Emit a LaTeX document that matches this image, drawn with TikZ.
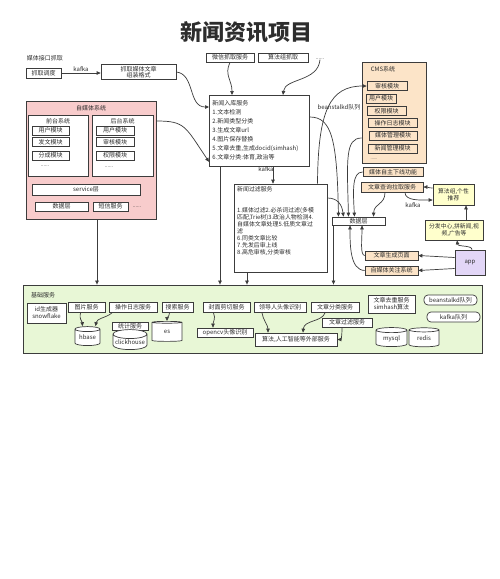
\documentclass[tikz,border=0pt]{standalone}
\usepackage{fontspec}
\setmainfont{Liberation Sans}
\newfontfamily\cjk{Noto Sans CJK SC}
\usetikzlibrary{shapes.geometric,arrows.meta}
\definecolor{lc}{RGB}{60,60,60}
\definecolor{tc}{RGB}{45,45,45}
\definecolor{pinkf}{RGB}{248,204,204}
\definecolor{peachf}{RGB}{252,228,200}
\definecolor{yelf}{RGB}{255,255,204}
\definecolor{greenf}{RGB}{232,247,214}
\definecolor{purf}{RGB}{226,214,247}
\tikzset{
  bx/.style={draw=lc, fill=white, line width=0.7pt, inner sep=0.5pt, align=center, text=tc},
  lbl/.style={inner sep=0pt, text=tc, align=center},
  cyl/.style={draw=lc, fill=white, line width=0.7pt, shape=cylinder, shape border rotate=90, aspect=0.3, inner sep=0pt, text=tc},
  arr/.style={draw=lc, line width=0.7pt, -{Triangle[length=4pt,width=3.5pt]}},
  grp/.style={draw=lc, line width=0.8pt, inner sep=0pt},
  rnd/.style={bx, rounded corners=4pt},
  cmsbox/.style={bx,fill=peachf,minimum height=9pt},
}
\begin{document}
\begin{tikzpicture}[x=1pt,y=-1pt,font=\cjk\fontsize{6}{7}\selectfont]
\useasboundingbox (0,0) rectangle (499,579);
\fill[white] (0,0) rectangle (499,579);
\node[lbl,font=\cjk\fontsize{22}{24}\selectfont\bfseries] (title) at (246,32) {新闻资讯项目};

% ---------- top left ----------
\node[lbl] (mtjk) at (45,58) {媒体接口抓取};
\node[bx,minimum width=35pt,minimum height=10pt] (zqdd) at (43.5,73) {抓取调度};
\node[bx,minimum width=75pt,minimum height=15pt,font=\cjk\fontsize{6}{6.5}\selectfont] (zqwz) at (138.5,72) {抓取媒体文章\\组装格式};
\draw[arr] (zqdd.east) -- node[lbl,above=1.5pt] (kf1) {kafka} (zqdd.east -| zqwz.west);

% ---------- self media system ----------
\node[grp,fill=pinkf,minimum width=130pt,minimum height=118pt] (zmt) at (91,160) {};
\node[lbl] (zmtt) at (91,108) {自媒体系统};
\node[grp,fill=white,minimum width=60pt,minimum height=61pt] (qt) at (58,145.5) {};
\node[lbl] (qtt) at (58,121) {前台系统};
\node[bx,minimum width=37pt,minimum height=9pt] (qt1) at (50.5,130.5) {用户模块};
\node[bx,minimum width=37pt,minimum height=9pt] (qt2) at (50.5,142) {发文模块};
\node[bx,minimum width=37pt,minimum height=9pt] (qt3) at (50.5,155.5) {分成模块};
\node[lbl,font=\cjk\fontsize{5}{6}\selectfont] (qtd) at (45,166) {......};
\node[grp,fill=white,minimum width=61pt,minimum height=61pt] (ht) at (122.5,145.5) {};
\node[lbl] (htt) at (122.5,121) {后台系统};
\node[bx,minimum width=38pt,minimum height=9pt] (ht1) at (115,130.5) {用户模块};
\node[bx,minimum width=38pt,minimum height=9pt] (ht2) at (115,142) {审核模块};
\node[bx,minimum width=38pt,minimum height=9pt] (ht3) at (115,155.5) {权限模块};
\node[lbl,font=\cjk\fontsize{5}{6}\selectfont] (htd) at (109,167) {......};
\node[bx,minimum width=108pt,minimum height=11pt] (svc) at (86,189.5) {service层};
\node[bx,minimum width=53pt,minimum height=9pt] (zsjc) at (61.5,206.5) {数据层};
\node[bx,minimum width=35pt,minimum height=9pt] (dx) at (110.5,206.5) {短信服务};
\node[lbl,font=\cjk\fontsize{5}{6}\selectfont] (zmd) at (137,207) {......};

% ---------- top center ----------
\node[bx,minimum width=48pt,minimum height=9pt] (wx) at (230,57.5) {微信抓取服务};
\node[bx,minimum width=50pt,minimum height=9pt] (sfzq) at (283,57.5) {算法组抓取};
\node[lbl,font=\cjk\fontsize{5}{6}\selectfont] (dots3) at (320,59) {......};

\node[bx,anchor=north west,text width=94pt,minimum height=71pt,align=left,inner sep=3pt,font=\cjk\fontsize{6}{9}\selectfont] (xwrk) at (209,95)
 {新闻入库服务\\1.文本检测\\2.新闻类型分类\\3.生成文章url\\4.图片保存替换\\5.文章去重,生成docid(simhash)\\6.文章分类:体育,政治等};

\node[bx,minimum width=93pt,minimum height=88pt] (xwgl) at (280.5,228) {};
\node[lbl,anchor=north west,align=left,font=\cjk\fontsize{5.9}{7}\selectfont] (xwglt) at (237,186)
 {新闻过滤服务\\[14pt]1.媒体过滤2.必杀词过滤(多模\\匹配,Trie树)3.政治人物检测4.\\自媒体文章处理5.低质文章过\\滤\\6.同类文章比较\\7.先发后审上线\\8.高危审核,分类审核};

% ---------- CMS ----------
\node[grp,fill=peachf,minimum width=64pt,minimum height=101pt] (cms) at (394,112.5) {};
\node[lbl] (cmst) at (383,69) {CMS系统};
\node[cmsbox,minimum width=40pt] (shmk) at (387,86) {审核模块};
\node[cmsbox,minimum width=30pt] (yhmk) at (381,98.5) {用户模块};
\node[cmsbox,minimum width=39pt] (qxmk) at (386.5,111) {权限模块};
\node[cmsbox,minimum width=49pt] (czrz) at (392.5,123) {操作日志模块};
\node[cmsbox,minimum width=48pt] (mtgl) at (393,135.5) {媒体管理模块};
\node[cmsbox,minimum width=49pt] (xwgl2) at (392.5,148.5) {新闻管理模块};
\node[lbl,font=\cjk\fontsize{4}{5}\selectfont] (cmsd) at (374,159) {......};

% ---------- right column ----------
\node[bx,fill=peachf,minimum width=60pt,minimum height=8.5pt] (mtzz) at (393,172) {媒体自主下线功能};
\node[bx,fill=peachf,minimum width=62pt,minimum height=10pt] (wzcx) at (392,187) {文章查询拉取服务};
\node[bx,fill=yelf,minimum width=41pt,minimum height=21pt,font=\cjk\fontsize{5.8}{7}\selectfont] (sfz) at (453.5,194.5) {算法组,个性\\推荐};
\node[bx,minimum width=53pt,minimum height=8pt] (sjc) at (358.5,221) {数据层};
\node[bx,fill=yelf,minimum width=58pt,minimum height=20pt,font=\cjk\fontsize{5.8}{7}\selectfont] (ff) at (454,230) {分发中心,拼新闻,视\\频,广告等};
\node[bx,fill=purf,minimum width=30pt,minimum height=25pt] (app) at (470,262.5) {app};
\node[bx,fill=peachf,minimum width=53pt,minimum height=9pt] (wzsc) at (391.5,255.5) {文章生成页面};
\node[bx,fill=peachf,minimum width=53pt,minimum height=9pt] (zmgz) at (391.5,270.5) {自媒体关注系统};

\node[lbl] (kf2) at (266,169) {kafka};
\node[lbl] (bsq) at (339,107) {beanstalkd队列};
\node[lbl] (kf3) at (413,205) {kafka};

% ---------- basic services ----------
\node[grp,fill=greenf,minimum width=459pt,minimum height=68pt] (jc) at (252.5,319) {};
\node[lbl] (jct) at (43,295) {基础服务};
\node[bx,minimum width=39pt,minimum height=20pt] (id) at (46.5,313) {id生成器\\snowflake};
\node[bx,minimum width=37pt,minimum height=10pt] (tp) at (86.5,307.5) {图片服务};
\node[bx,minimum width=48pt,minimum height=10pt] (czrzfw) at (133,307.5) {操作日志服务};
\node[bx,minimum width=31pt,minimum height=10pt] (ss) at (177.5,307.5) {搜索服务};
\node[bx,minimum width=47pt,minimum height=10pt] (fm) at (226.5,307.5) {封面剪切服务};
\node[bx,minimum width=52pt,minimum height=10pt] (ld) at (280,307.5) {领导人头像识别};
\node[bx,minimum width=48pt,minimum height=10pt] (wzfl) at (335,307.5) {文章分类服务};
\node[bx,minimum width=47pt,minimum height=18pt] (qc) at (391.5,304) {文章去重服务\\simhash算法};
\node[rnd,minimum width=53pt,minimum height=10pt] (bq) at (450.5,300) {beanstalkd队列};
\node[rnd,minimum width=53pt,minimum height=10pt] (kq) at (453.5,317) {kafka队列};
\node[cyl,minimum width=25pt,minimum height=19pt] (hbase) at (87.5,337.5) {\raisebox{-3pt}{hbase}};
\node[bx,minimum width=36pt,minimum height=8pt] (tj) at (130,326) {统计服务};
\node[cyl,minimum width=34pt,minimum height=20pt] (ch) at (130,342) {\raisebox{-3pt}{clickhouse}};
\node[cyl,minimum width=30pt,minimum height=20pt] (es) at (167,332) {\raisebox{-3pt}{es}};
\node[bx,minimum width=56pt,minimum height=9pt] (opencv) at (225,332.5) {opencv头像识别};
\node[bx,minimum width=82pt,minimum height=13pt] (sf) at (296,339.5) {算法,人工智能等外部服务};
\node[bx,minimum width=50pt,minimum height=9pt] (wzgl) at (347,322.5) {文章过滤服务};
\node[cyl,minimum width=31pt,minimum height=19pt] (mysql) at (391.5,338.5) {\raisebox{-3pt}{mysql}};
\node[cyl,minimum width=30pt,minimum height=19pt] (redis) at (424,338.5) {\raisebox{-3pt}{redis}};

% ---------- connectors ----------
\draw[arr] (zqwz.east) .. controls (195,74) and (188,107) .. ([yshift=-12pt]xwrk.north west);
\draw[arr] ([yshift=39pt]zmt.east) .. controls (185,121) and (185,126) .. ([yshift=-31pt]xwrk.west);
\draw[arr] (wx.south) .. controls (224,75) and (232,80) .. ([xshift=23pt]xwrk.north west);
\draw[arr] (dots3.south) .. controls (318,82) and (285,78) .. ([xshift=74pt]xwrk.north west);
\draw[arr] ([xshift=64pt]xwrk.south west) -- ([xshift=64pt]xwrk.south west |- xwgl.north);
\draw[arr] ([xshift=11pt]xwrk.south west) -- ([xshift=11pt]xwrk.south west |- jc.north);
\draw[arr] ([xshift=6pt]zmt.south) -- ([xshift=6pt]zmt.south |- jc.north);
\draw[arr] ([xshift=-33.5pt]xwgl.south) -- ([xshift=-33.5pt]xwgl.south |- jc.north);
\draw[arr] ([xshift=37pt]xwgl.north) .. controls (318,110) and (330,86) .. (shmk.west);
\draw[arr] ([yshift=-22pt]xwrk.north east) .. controls (332,117) and (337,140) .. ([xshift=-20pt]sjc.north);
\draw[arr] ([yshift=30pt]xwgl.east) .. controls (338,198) and (342,205) .. ([xshift=-15pt]sjc.north);
\draw[arr] ([yshift=-25.5pt]cms.west) .. controls (345,138) and (347,160) .. ([xshift=-10pt]sjc.north);
\draw[arr] (mtzz.west) .. controls (352,172) and (353,190) .. ([xshift=-4pt]sjc.north);
\draw[arr] ([xshift=-7pt]wzcx.south) .. controls (385,205) and (374,203) .. ([xshift=15pt]sjc.north);
\draw[arr] ([xshift=-25pt]sjc.south) -- ([xshift=-25pt]sjc.south |- jc.north);
\draw[arr] (wzsc.west) .. controls (360,255) and (362,240) .. ([xshift=3.5pt]sjc.south);
\draw[arr] (zmgz.west) .. controls (350,270) and (350,245) .. ([xshift=-8.5pt]sjc.south);
\draw[arr] ([yshift=6.5pt]sfz.west) .. controls (429,188) and (427,187) .. (wzcx.east);
\draw[arr] ([xshift=13pt]wzcx.south) .. controls (405,201) and (420,200) .. ([yshift=-5.5pt]sfz.west);
\draw[arr] ([xshift=12pt]ff.north) -- ([xshift=12pt]ff.north |- sfz.south);
\draw[arr] ([xshift=2pt]app.north) .. controls (472,245) and (458,247) .. ([xshift=3pt]ff.south);
\draw[arr] ([yshift=5pt]app.west) -- (wzsc.east);
\draw[arr] ([yshift=-6pt]app.west) -- (zmgz.east);

\draw[arr] ([xshift=-6pt]tp.south) .. controls (79,320) and (82,320) .. ([xshift=-5pt]hbase.north);
\draw[arr] ([xshift=-21pt]czrzfw.south) .. controls (106,318) and (97,318) .. ([xshift=8pt]hbase.north);
\draw[arr] ([xshift=-8pt]ss.south) .. controls (169,317) and (167,318) .. (es.north);
\draw[arr] ([xshift=-13pt]fm.south) .. controls (216,319) and (213,321) .. ([xshift=-12pt]opencv.north);
\draw[arr] ([xshift=-18pt]ld.south) .. controls (263,320) and (268,325) .. ([xshift=-28pt]sf.north);
\draw[arr] ([xshift=-10pt]wzfl.south) .. controls (322,322) and (304,320) .. ([xshift=7pt]sf.north);
\draw[arr] ([xshift=-5pt]wzgl.south) .. controls (342,337) and (341,339.5) .. (sf.east);
\end{tikzpicture}
\end{document}
